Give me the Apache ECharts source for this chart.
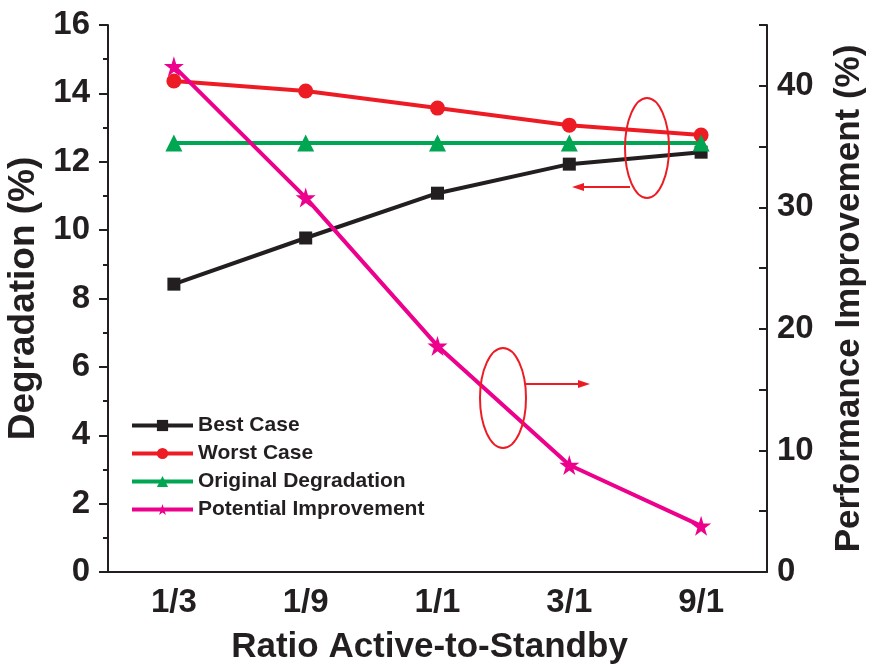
<!DOCTYPE html>
<html>
<head>
<meta charset="utf-8">
<script src="https://cdn.jsdelivr.net/npm/echarts@6/dist/echarts.min.js"></script>
<style>
  html, body { margin: 0; padding: 0; background: #fff; }
  #chart { width: 869px; height: 667px; }
</style>
</head>
<body>
<div id="chart"></div>
<script>
const categories = ['1/3', '1/9', '1/1', '3/1', '9/1'];
const bestCase = [8.42, 9.77, 11.08, 11.93, 12.28];
const worstCase = [14.36, 14.07, 13.57, 13.07, 12.78];
const originalDeg = [12.55, 12.55, 12.55, 12.55, 12.55];
const potentialImp = [41.6, 30.8, 18.6, 8.8, 3.8]; // right axis

const ink = '#231f20';
const font = 'Liberation Sans, Arial, sans-serif';
const starPath = 'path://M50,0 L61,35 L98,35 L68,57 L79,91 L50,70 L21,91 L32,57 L2,35 L39,35 Z';

function lineSeries(name, data, color, symbol, size, yIdx) {
  return {
    name: name,
    type: 'line',
    data: data,
    yAxisIndex: yIdx,
    symbol: symbol,
    symbolSize: size,
    showAllSymbol: true,
    lineStyle: { color: color, width: 4 },
    itemStyle: { color: color },
    emphasis: { disabled: true },
    animation: false
  };
}

const chart = echarts.init(document.getElementById('chart'));
chart.setOption({
  animation: false,
  grid: { left: 108, right: 102, top: 25, bottom: 95, outerBoundsMode: 'none' },
  legend: {
    orient: 'vertical',
    left: 125,
    top: 410,
    itemWidth: 61,
    itemHeight: 14,
    itemGap: 7,
    lineStyle: { width: 4 },
    textStyle: { fontFamily: font, fontWeight: 'bold', fontSize: 21, color: ink }
  },
  xAxis: [{
    type: 'category',
    data: categories,
    boundaryGap: true,
    name: 'Ratio Active-to-Standby',
    nameLocation: 'middle',
    nameGap: 58,
    nameTextStyle: { fontFamily: font, fontWeight: 'bold', fontSize: 35, color: ink, padding: [0, 16, 0, 0] },
    axisLine: { lineStyle: { color: ink, width: 2 } },
    axisTick: { alignWithLabel: true, length: 9, lineStyle: { color: ink, width: 2 } },
    axisLabel: { margin: 14, fontFamily: font, fontWeight: 'bold', fontSize: 33, color: ink }
  }, {
    type: 'category',
    data: categories,
    position: 'bottom',
    boundaryGap: true,
    axisLine: { show: false },
    axisTick: { length: 6, lineStyle: { color: ink, width: 2 } },
    axisLabel: { show: false }
  }],
  yAxis: [{
    type: 'value',
    min: 0, max: 16, interval: 2,
    name: 'Degradation (%)',
    nameLocation: 'middle',
    nameGap: 56,
    nameTextStyle: { fontFamily: font, fontWeight: 'bold', fontSize: 37, color: ink },
    axisLine: { show: true, lineStyle: { color: ink, width: 2 } },
    axisTick: { show: true, length: 9, lineStyle: { color: ink, width: 2 } },
    minorTick: { show: true, splitNumber: 2, length: 5, lineStyle: { color: ink, width: 2 } },
    splitLine: { show: false },
    axisLabel: { margin: 18, fontFamily: font, fontWeight: 'bold', fontSize: 33, color: ink }
  }, {
    type: 'value',
    min: 0, max: 45, interval: 5,
    position: 'right',
    name: 'Performance Improvement (%)',
    nameLocation: 'middle',
    nameGap: 65,
    nameRotate: 90,
    nameTextStyle: { fontFamily: font, fontWeight: 'bold', fontSize: 35, color: ink },
    axisLine: { show: true, lineStyle: { color: ink, width: 2 } },
    axisTick: { show: true, inside: true, length: 8, lineStyle: { color: ink, width: 2 } },
    splitLine: { show: false },
    axisLabel: {
      margin: 10, fontFamily: font, fontWeight: 'bold', fontSize: 33, color: ink,
      formatter: v => (v % 10 === 0 ? String(v) : '')
    }
  }],
  series: [
    lineSeries('Best Case', bestCase, ink, 'rect', 13, 0),
    lineSeries('Worst Case', worstCase, '#ed1c24', 'circle', 15, 0),
    lineSeries('Original Degradation', originalDeg, '#00a651', 'triangle', 17, 0),
    lineSeries('Potential Improvement', potentialImp, '#ec008c', starPath, 20, 1)
  ],
  graphic: [
    // annotation: ellipse + arrow pointing to left axis
    { type: 'ellipse', shape: { cx: 647, cy: 148, rx: 22, ry: 50 },
      style: { fill: 'none', stroke: '#ed1c24', lineWidth: 2 }, z: 100 },
    { type: 'polyline', shape: { points: [[630, 187], [580, 187]] },
      style: { stroke: '#ed1c24', lineWidth: 2 }, z: 100 },
    { type: 'polygon', shape: { points: [[572, 187], [584, 183], [584, 191]] },
      style: { fill: '#ed1c24' }, z: 100 },
    // annotation: ellipse + arrow pointing to right axis
    { type: 'ellipse', shape: { cx: 503, cy: 398, rx: 23, ry: 50 },
      style: { fill: 'none', stroke: '#ed1c24', lineWidth: 2 }, z: 100 },
    { type: 'polyline', shape: { points: [[526, 384], [582, 384]] },
      style: { stroke: '#ed1c24', lineWidth: 2 }, z: 100 },
    { type: 'polygon', shape: { points: [[590, 384], [578, 380], [578, 388]] },
      style: { fill: '#ed1c24' }, z: 100 }
  ]
});
</script>
</body>
</html>
